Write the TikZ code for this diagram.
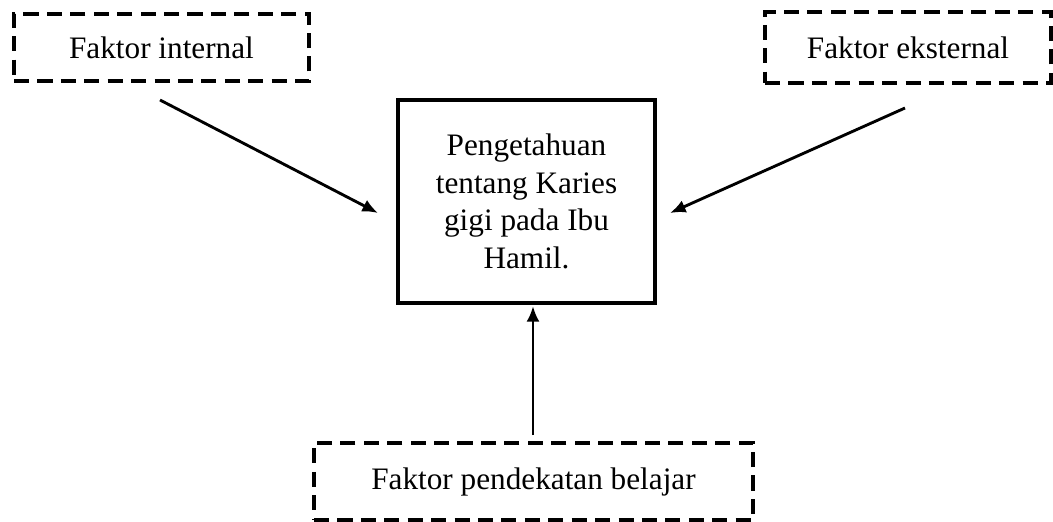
\documentclass[tikz,border=0pt]{standalone}
\usepackage{fontspec}
\setmainfont{Liberation Serif}
\usetikzlibrary{arrows.meta}
\begin{document}
\begin{tikzpicture}[>={Latex[length=6pt,width=5pt]}, x=0.0135cm, y=-0.0135cm,
    factor/.style={draw, dashed, line width=1.7pt, dash pattern=on 5.8pt off 3.2pt, font=\fontsize{12}{14.4}\selectfont},
    centerbox/.style={draw, line width=1.3pt, align=center, font=\fontsize{12}{14.4}\selectfont}]
                \useasboundingbox (0, 0) rectangle (1053, 521);
                % Nodes
                \node[factor, minimum width=295*0.0135cm, minimum height=67*0.0135cm] at (161.5, 47.5) (internal) {Faktor internal};
                \node[factor, minimum width=286*0.0135cm, minimum height=71*0.0135cm] at (908, 47.5) (eksternal) {Faktor eksternal};
                \node[factor, minimum width=439*0.0135cm, minimum height=77*0.0135cm] at (533.5, 481.5) (belajar) {Faktor pendekatan belajar};
                \node[centerbox, minimum width=257*0.0135cm, minimum height=203*0.0135cm] at (526.5, 201.5) (karies) {Pengetahuan\\tentang Karies\\gigi pada Ibu\\Hamil.};

                % Arrow ends
                \coordinate (int1) at (160, 100);
                \coordinate (int2) at (378, 213);
                \coordinate (eks1) at (905, 108);
                \coordinate (eks2) at (670, 213);
                \coordinate (bel1) at (533, 435);
                \coordinate (bel2) at (533, 306);

                % Edges
                \draw[->, line width=1.1pt] (int1) -- (int2);
                \draw[->, line width=1.1pt] (eks1) -- (eks2);
                \draw[->, line width=1.1pt] (bel1) -- (bel2);
            \end{tikzpicture}
\end{document}
